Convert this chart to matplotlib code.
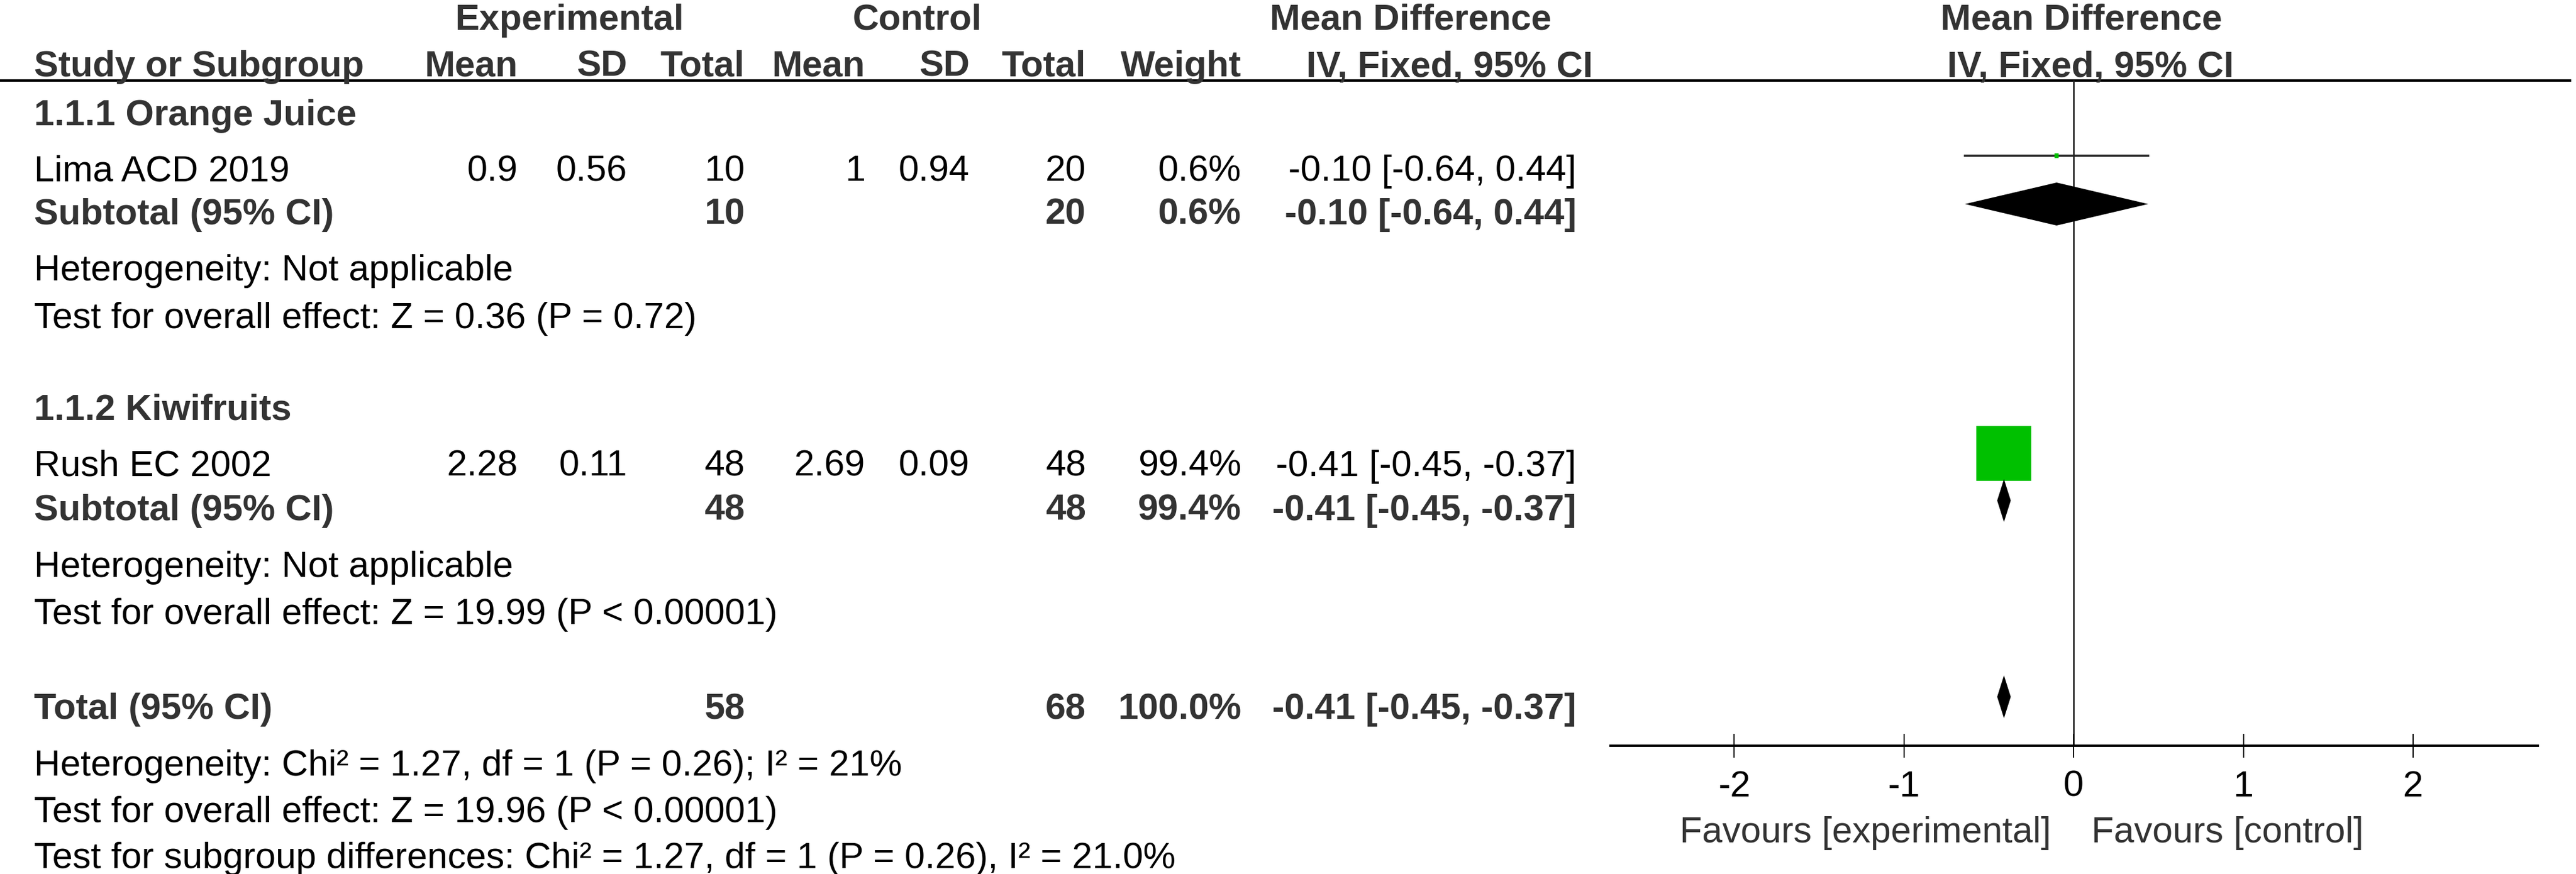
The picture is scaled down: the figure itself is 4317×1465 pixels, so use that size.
import matplotlib
matplotlib.use("Agg")
import matplotlib.pyplot as plt
from matplotlib.patches import Rectangle, Polygon

plt.rcParams['font.family'] = ['Liberation Sans', 'DejaVu Sans']
plt.rcParams['axes.unicode_minus'] = False

# data
subgroups = ["1.1.1 Orange Juice", "1.1.2 Kiwifruits"]
studies = ["Lima ACD 2019", "Rush EC 2002"]
exp_mean = [0.9, 2.28]
exp_sd = [0.56, 0.11]
exp_n = [10, 48]
ctl_mean = [1, 2.69]
ctl_sd = [0.94, 0.09]
ctl_n = [20, 48]
weight = [0.6, 99.4]
md = [-0.10, -0.41]
ci_lo = [-0.64, -0.45]
ci_hi = [0.44, -0.37]

sub_md = [-0.10, -0.41]
sub_lo = [-0.64, -0.45]
sub_hi = [0.44, -0.37]
sub_het = ["Heterogeneity: Not applicable", "Heterogeneity: Not applicable"]
sub_effect = ["Test for overall effect: Z = 0.36 (P = 0.72)",
              "Test for overall effect: Z = 19.99 (P < 0.00001)"]

total_n_exp = 58
total_n_ctl = 68
total_weight = 100.0
total_md = -0.41
total_lo = -0.45
total_hi = -0.37
total_notes = ["Heterogeneity: Chi\u00b2 = 1.27, df = 1 (P = 0.26); I\u00b2 = 21%",
               "Test for overall effect: Z = 19.96 (P < 0.00001)",
               "Test for subgroup differences: Chi\u00b2 = 1.27, df = 1 (P = 0.26), I\u00b2 = 21.0%"]

ticks = [-2, -1, 0, 1, 2]

# layout (pixels)
W, H = 4317, 1465
FS = 44
BOLD_C = '#333333'
x_left = 57
col_x = [868, 1051, 1248, 1450, 1625, 1820, 2080, 2642]
line_y = 135
axis_y = 1250
plot_x0, plot_x1 = 2699, 4253
zero_px, unit_px = 3475, 284.5
big_square = 92   # px side for the heaviest study
diamond_h = 72

# text baselines per block
sub_rows = [dict(title=210, study=303, sub=376, het=470, eff=550, mark=261, dmark=342),
            dict(title=704, study=798, sub=872, het=967, eff=1046, mark=760, dmark=839)]
total_row = 1205
total_mark = 1168
total_note_rows = [1300, 1378, 1455]

fig = plt.figure(figsize=(W / 100, H / 100), dpi=100)
ax = fig.add_axes([0, 0, 1, 1])
ax.set_xlim(0, W)
ax.set_ylim(H, 0)
ax.axis('off')


def txt(x, y, s, bold=False, ha='left', color=None):
    ax.text(x, y, s, fontsize=FS, ha=ha, va='baseline',
            fontweight='bold' if bold else 'normal',
            color=color if color else (BOLD_C if bold else 'black'))


# headers
txt(955, 50, "Experimental", bold=True, ha='center')
txt(1537, 50, "Control", bold=True, ha='center')
txt(2364, 50, "Mean Difference", bold=True, ha='center')
txt(3488, 50, "Mean Difference", bold=True, ha='center')
txt(x_left, 128, "Study or Subgroup", bold=True)
for cx, lab in zip(col_x[:7], ["Mean", "SD", "Total", "Mean", "SD", "Total", "Weight"]):
    txt(cx, 128, lab, bold=True, ha='right')
txt(2429, 128, "IV, Fixed, 95% CI", bold=True, ha='center')
txt(3503, 128, "IV, Fixed, 95% CI", bold=True, ha='center')
ax.hlines(line_y, 0, 4309, color='black', lw=2.9)

# table rows
for i, r in enumerate(sub_rows):
    txt(x_left, r['title'], subgroups[i], bold=True)
    txt(x_left, r['study'], studies[i])
    vals = [f"{exp_mean[i]:g}", f"{exp_sd[i]:g}", f"{exp_n[i]}",
            f"{ctl_mean[i]:g}", f"{ctl_sd[i]:g}", f"{ctl_n[i]}",
            f"{weight[i]:.1f}%",
            f"{md[i]:.2f} [{ci_lo[i]:.2f}, {ci_hi[i]:.2f}]"]
    for cx, v in zip(col_x, vals):
        txt(cx, r['study'], v, ha='right')
    txt(x_left, r['sub'], "Subtotal (95% CI)", bold=True)
    txt(col_x[2], r['sub'], f"{exp_n[i]}", bold=True, ha='right')
    txt(col_x[5], r['sub'], f"{ctl_n[i]}", bold=True, ha='right')
    txt(col_x[6], r['sub'], f"{weight[i]:.1f}%", bold=True, ha='right')
    txt(col_x[7], r['sub'], f"{sub_md[i]:.2f} [{sub_lo[i]:.2f}, {sub_hi[i]:.2f}]",
        bold=True, ha='right')
    txt(x_left, r['het'], sub_het[i])
    txt(x_left, r['eff'], sub_effect[i])

txt(x_left, total_row, "Total (95% CI)", bold=True)
txt(col_x[2], total_row, f"{total_n_exp}", bold=True, ha='right')
txt(col_x[5], total_row, f"{total_n_ctl}", bold=True, ha='right')
txt(col_x[6], total_row, f"{total_weight:.1f}%", bold=True, ha='right')
txt(col_x[7], total_row, f"{total_md:.2f} [{total_lo:.2f}, {total_hi:.2f}]",
    bold=True, ha='right')
for y, s in zip(total_note_rows, total_notes):
    txt(x_left, y, s)

txt(3437, 1412, "Favours [experimental]", ha='right', color=BOLD_C)
txt(3505, 1412, "Favours [control]", color=BOLD_C)

# forest panel
xl = ((plot_x0 - zero_px) / unit_px, (plot_x1 - zero_px) / unit_px)
fa = fig.add_axes([plot_x0 / W, 1 - axis_y / H,
                   (plot_x1 - plot_x0) / W, (axis_y - line_y) / H])
fa.set_xlim(*xl)
fa.set_ylim(axis_y, line_y)
fa.patch.set_alpha(0)
for s in ['top', 'left', 'right']:
    fa.spines[s].set_visible(False)
fa.spines['bottom'].set_linewidth(2.9)
fa.set_yticks([])
fa.set_xticks(ticks)
fa.set_xticklabels([str(t) for t in ticks])
fa.tick_params(axis='x', direction='inout', length=29, width=1.4,
               labelsize=FS, pad=15)
fa.axvline(0, color='#222222', lw=1.9, zorder=1)

px_per_unit = unit_px
max_w = max(weight)
for i, r in enumerate(sub_rows):
    y = r['mark']
    fa.plot([ci_lo[i], ci_hi[i]], [y, y], color='#222222', lw=2.6, zorder=2)
    side = big_square * (weight[i] / max_w) ** 0.5
    w_units = side / px_per_unit
    fa.add_patch(Rectangle((md[i] - w_units / 2, y - side / 2), w_units, side,
                           color='#00c000', lw=0, zorder=3))
    yd = r['dmark']
    fa.add_patch(Polygon([(sub_lo[i], yd), (sub_md[i], yd - diamond_h / 2),
                          (sub_hi[i], yd), (sub_md[i], yd + diamond_h / 2)],
                         closed=True, color='black', lw=0, zorder=3))

fa.add_patch(Polygon([(total_lo, total_mark), (total_md, total_mark - diamond_h / 2),
                      (total_hi, total_mark), (total_md, total_mark + diamond_h / 2)],
                     closed=True, color='black', lw=0, zorder=3))

fig.savefig("out.png", dpi=100)
